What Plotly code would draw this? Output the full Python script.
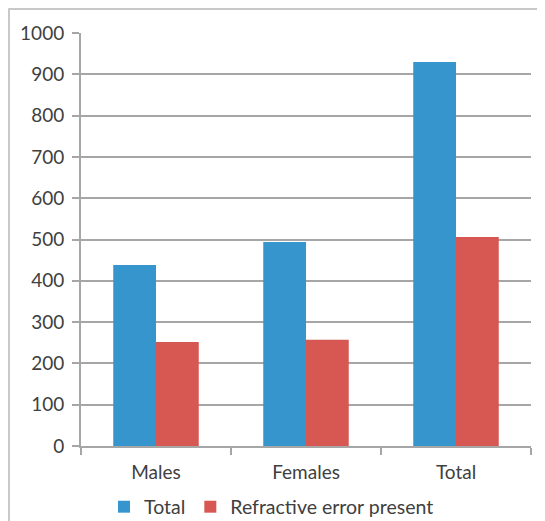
import plotly.graph_objects as go

categories = ["Males", "Females", "Total"]
total_values = [438, 494, 930]
refractive_values = [252, 257, 506]
series_names = ["Total", "Refractive error present"]

# page body has an 8px margin, so the figure starts at (8, 8) in the window
OFF = 8
W, H = 545 - OFF, 521 - OFF
L, R, T, B = 81 - OFF, 14, 33 - OFF, 521 - 446
pw, ph = W - L - R, H - T - B

def px(x):  # screen pixel -> paper
    return (x - OFF - L) / pw

def py(y):
    return (H - B - (y - OFF)) / ph

font = "Lato, 'Open Sans', sans-serif"
grid = "#a6a6a6"
txt = "#404040"

fig = go.Figure()
fig.add_trace(go.Bar(x=categories, y=total_values, name=series_names[0],
                     marker=dict(color="#3795CE", line=dict(width=0))))
fig.add_trace(go.Bar(x=categories, y=refractive_values, name=series_names[1],
                     marker=dict(color="#D75853", line=dict(width=0))))

fig.update_layout(
    width=W, height=H,
    margin=dict(l=L, r=R, t=T, b=B, autoexpand=False),
    paper_bgcolor="white", plot_bgcolor="white",
    barmode="group", bargap=0.43, bargroupgap=0,
    font=dict(family=font, size=19, color=txt),
    showlegend=True,
    legend=dict(orientation="h", x=px(104), xanchor="left", y=py(507), yanchor="middle",
                font=dict(family=font, size=19.5, color=txt), itemwidth=30,
                traceorder="normal", bgcolor="rgba(0,0,0,0)"),
    xaxis=dict(showline=True, linecolor=grid, linewidth=2, ticks="outside",
               tickson="boundaries", ticklen=7, tickcolor=grid, tickwidth=2,
               showgrid=False, automargin=False, ticklabelstandoff=8,
               tickfont=dict(size=19, color=txt)),
    yaxis=dict(range=[0, 1000], dtick=100, showline=True, linecolor=grid, linewidth=2,
               ticks="outside", ticklen=7, tickcolor=grid, tickwidth=2,
               showgrid=True, gridcolor=grid, gridwidth=1.5, zeroline=False,
               automargin=False, ticklabelstandoff=4,
               tickfont=dict(size=19, color=txt)),
    shapes=[
        dict(type="line", xref="paper", yref="paper", x0=px(8.5), x1=px(545), y0=py(9), y1=py(9),
             line=dict(color="#c8c8c8", width=2)),
        dict(type="line", xref="paper", yref="paper", x0=px(9), x1=px(9), y0=py(8.5), y1=py(521),
             line=dict(color="#c8c8c8", width=2)),
    ],
)

fig.write_html("out.html")
